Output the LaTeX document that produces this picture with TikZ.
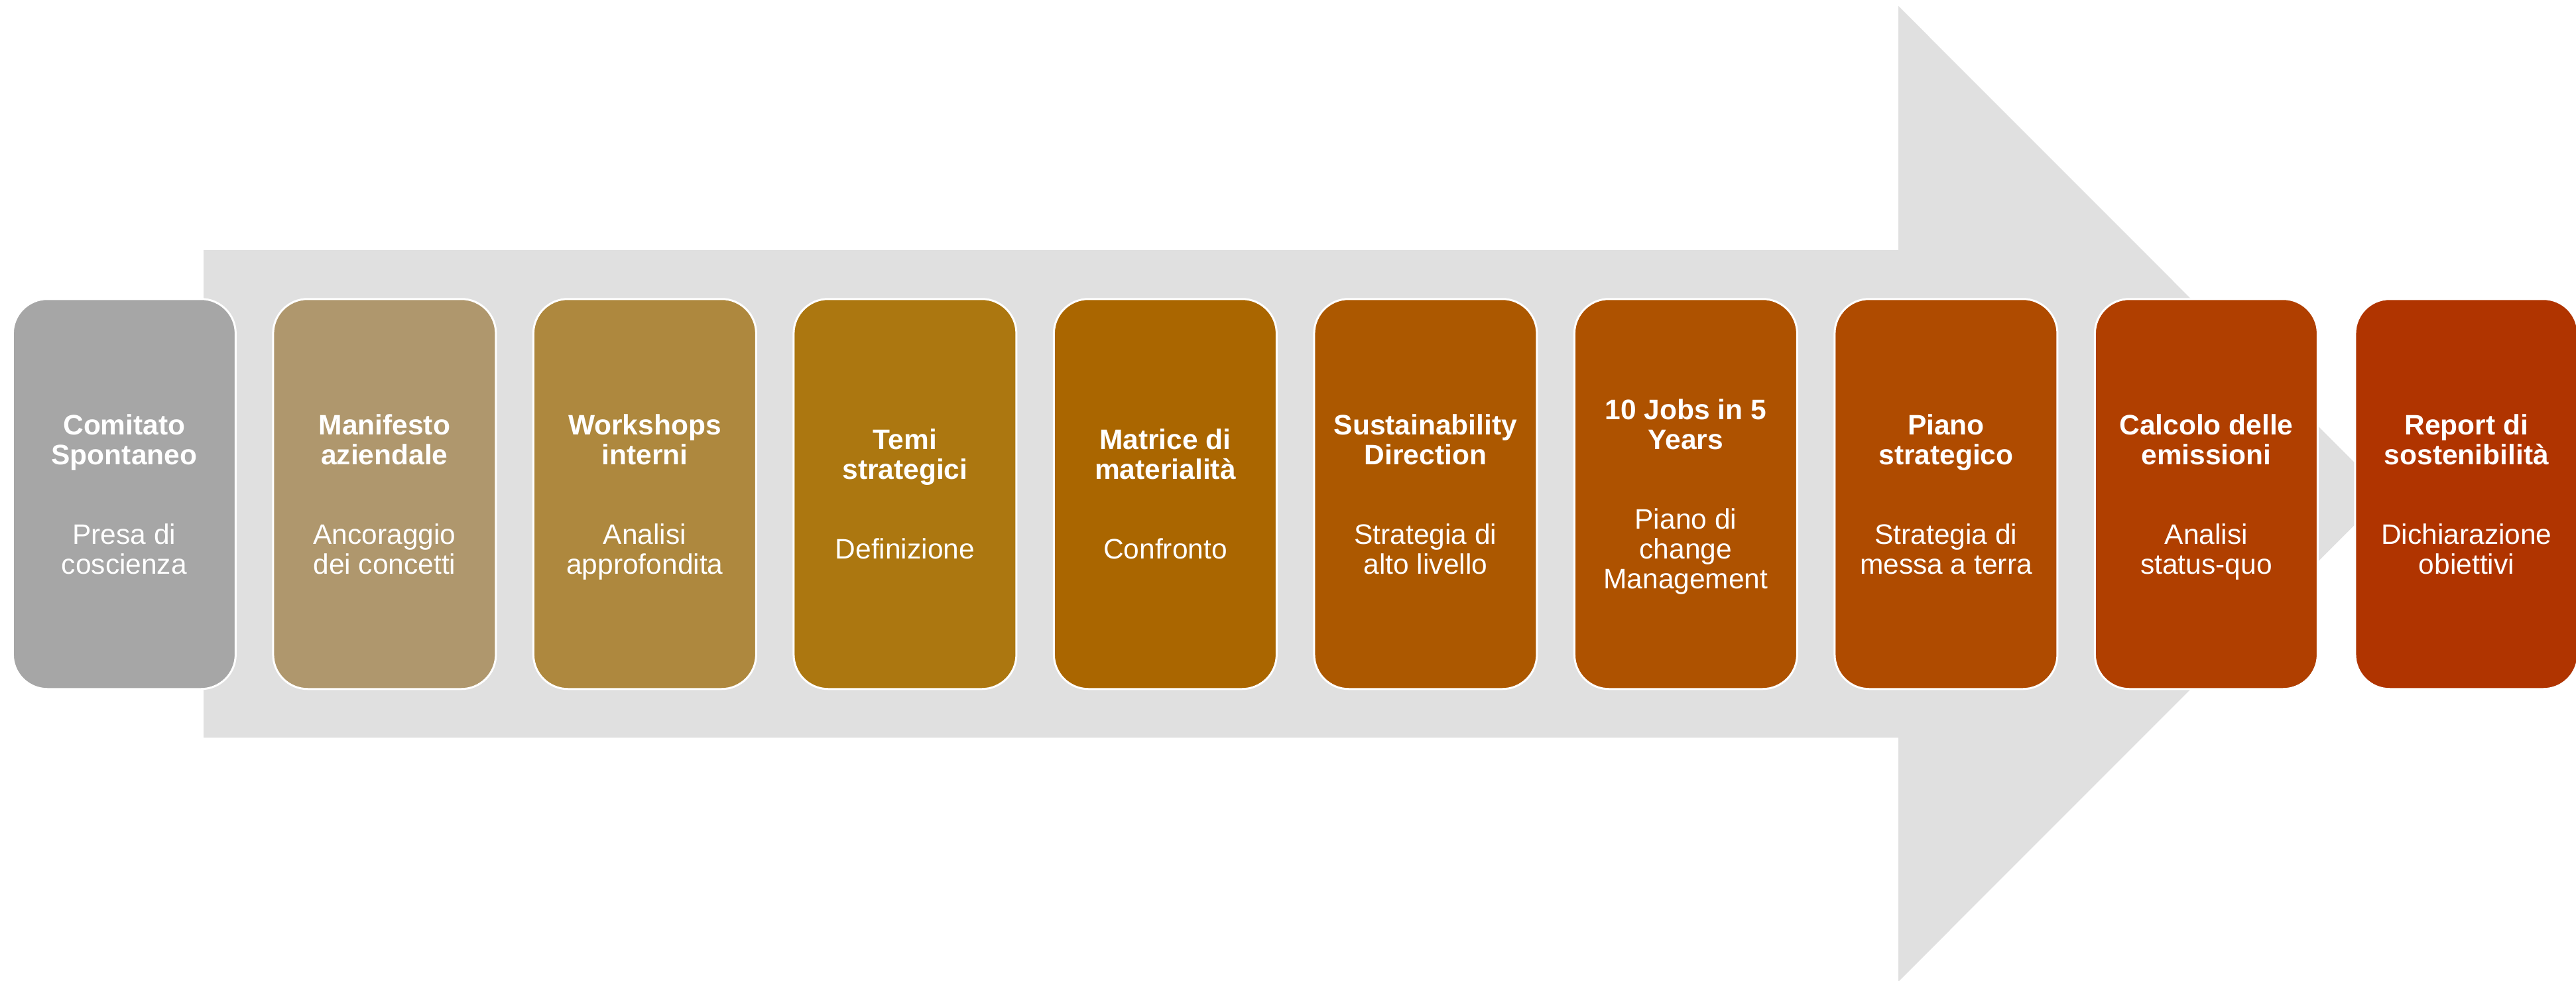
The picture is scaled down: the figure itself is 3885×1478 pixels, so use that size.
\documentclass[tikz,border=0pt]{standalone}
\usepackage{fontspec}
\setmainfont{Liberation Sans}
\definecolor{arrowgrey}{RGB}{224,224,224}
\definecolor{cA}{HTML}{A6A6A6}
\definecolor{cB}{HTML}{AF976D}
\definecolor{cC}{HTML}{AE883E}
\definecolor{cD}{HTML}{AC7710}
\definecolor{cE}{HTML}{AA6600}
\definecolor{cF}{HTML}{AC5800}
\definecolor{cG}{HTML}{AE5200}
\definecolor{cH}{HTML}{AF4B00}
\definecolor{cI}{HTML}{B03F00}
\definecolor{cJ}{HTML}{B03400}
\newcommand\stagettl[1]{\smash{\bfseries #1}}
\newcommand\stagesub[1]{\smash{#1}}
\newcommand\stagetop{\rule{0pt}{31pt}}
\tikzset{
  stagebox/.style={draw=white, line width=3pt, rounded corners=52pt,
    minimum width=336pt, minimum height=588pt, inner sep=0pt,
    align=center, text=white, font=\fontsize{42.5}{45}\selectfont},
  bigarrow/.style={fill=arrowgrey, draw=none}
}
\begin{document}
\begin{tikzpicture}[x=1pt,y=-1pt]
\useasboundingbox (0,0) rectangle (3885,1478);
\fill[bigarrow] (307,377) -- (2863,377) -- (2863,9) -- (3598,744.5)
  -- (2863,1480) -- (2863,1112) -- (307,1112) -- cycle;
\node[stagebox, fill=cA] (s1) at (187.4,744.75)
  {\stagetop\stagettl{Comitato}\\\stagettl{Spontaneo}\\[75pt]\stagesub{Presa di}\\\stagesub{coscienza}};
\node[stagebox, fill=cB] (s2) at (579.9,744.75)
  {\stagetop\stagettl{Manifesto}\\\stagettl{aziendale}\\[75pt]\stagesub{Ancoraggio}\\\stagesub{dei concetti}};
\node[stagebox, fill=cC] (s3) at (972.4,744.75)
  {\stagetop\stagettl{Workshops}\\\stagettl{interni}\\[75pt]\stagesub{Analisi}\\\stagesub{approfondita}};
\node[stagebox, fill=cD] (s4) at (1364.9,744.75)
  {\stagetop\stagettl{Temi}\\\stagettl{strategici}\\[75pt]\stagesub{Definizione}};
\node[stagebox, fill=cE] (s5) at (1757.4,744.75)
  {\stagetop\stagettl{Matrice di}\\\stagettl{materialità}\\[75pt]\stagesub{Confronto}};
\node[stagebox, fill=cF] (s6) at (2149.9,744.75)
  {\stagetop\stagettl{Sustainability}\\\stagettl{Direction}\\[75pt]\stagesub{Strategia di}\\\stagesub{alto livello}};
\node[stagebox, fill=cG] (s7) at (2542.4,744.75)
  {\stagetop\stagettl{10 Jobs in 5}\\\stagettl{Years}\\[75pt]\stagesub{Piano di}\\\stagesub{change}\\\stagesub{Management}};
\node[stagebox, fill=cH] (s8) at (2934.9,744.75)
  {\stagetop\stagettl{Piano}\\\stagettl{strategico}\\[75pt]\stagesub{Strategia di}\\\stagesub{messa a terra}};
\node[stagebox, fill=cI] (s9) at (3327.4,744.75)
  {\stagetop\stagettl{Calcolo delle}\\\stagettl{emissioni}\\[75pt]\stagesub{Analisi}\\\stagesub{status-quo}};
\node[stagebox, fill=cJ] (s10) at (3719.9,744.75)
  {\stagetop\stagettl{Report di}\\\stagettl{sostenibilità}\\[75pt]\stagesub{Dichiarazione}\\\stagesub{obiettivi}};
\end{tikzpicture}
\end{document}
